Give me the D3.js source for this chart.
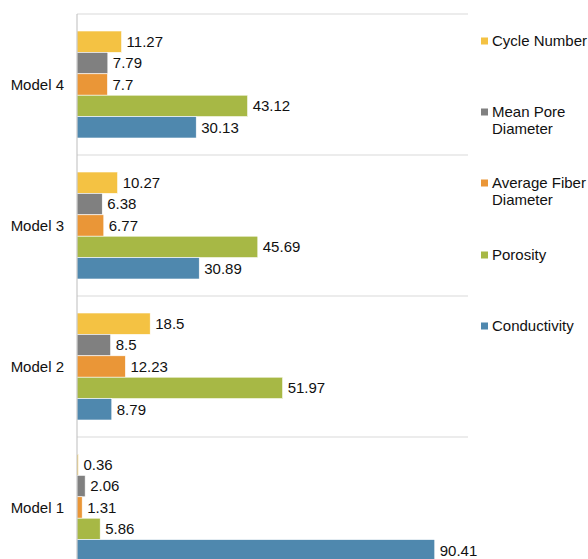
<!DOCTYPE html>
<html>
<head>
<meta charset="utf-8">
<script src="https://cdn.jsdelivr.net/npm/d3@7"></script>
<style>
  body { margin: 0; background: #fff; }
  svg { display: block; font-family: "Liberation Sans", Arial, sans-serif; }
</style>
</head>
<body>
<div id="chart"></div>
<script>
// categories, top to bottom as drawn
const models = ["Model 4", "Model 3", "Model 2", "Model 1"];

// series in the order they appear inside each group (top to bottom)
const seriesNames = ["Cycle Number", "Mean Pore Diameter", "Average Fiber Diameter", "Porosity", "Conductivity"];

// values per series, indexed like models
const cycleNumber = [11.27, 10.27, 18.5, 0.36];
const meanPoreDiameter = [7.79, 6.38, 8.5, 2.06];
const averageFiberDiameter = [7.7, 6.77, 12.23, 1.31];
const porosity = [43.12, 45.69, 51.97, 5.86];
const conductivity = [30.13, 30.89, 8.79, 90.41];

const seriesValues = [cycleNumber, meanPoreDiameter, averageFiberDiameter, porosity, conductivity];

// legend labels split in lines
const legendLines = [["Cycle Number"], ["Mean Pore", "Diameter"], ["Average Fiber", "Diameter"], ["Porosity"], ["Conductivity"]];

const colors = ["#f4c243", "#808080", "#ea9637", "#a7b845", "#4f88ae"];

const width = 588;
const height = 559;

const svg = d3.select("#chart")
    .append("svg")
    .attr("width", width)
    .attr("height", height);

// x scale: value -> px
const x = d3.scaleLinear()
    .domain([0, 100])
    .range([77, 77 + 395.7]);

// outer band per model
const y0 = d3.scaleBand()
    .domain(models)
    .range([14, 14 + 141 * models.length])
    .padding(0);

// inner band per series
const y1 = d3.scaleBand()
    .domain(seriesNames)
    .range([17, y0.bandwidth() - 17])
    .padding(0);

const color = d3.scaleOrdinal()
    .domain(seriesNames)
    .range(colors);

// separator grid lines
svg.selectAll(".grid")
    .data(models)
    .enter().append("line")
    .attr("class", "grid")
    .attr("x1", 77)
    .attr("x2", 468)
    .attr("y1", (d) => y0(d))
    .attr("y2", (d) => y0(d))
    .style("stroke", "#e6e6e6")
    .style("stroke-width", 1.5);

// flatten data for the bars
const rows = [];
models.forEach((m, i) => {
    seriesNames.forEach((s, j) => {
        rows.push({ model: m, series: s, value: seriesValues[j][i] });
    });
});

const bar = svg.selectAll(".bar")
    .data(rows)
    .enter().append("g")
    .attr("class", "bar")
    .attr("transform", (d) => `translate(0,${y0(d.model) + y1(d.series)})`);

bar.append("rect")
    .attr("x", x(0))
    .attr("y", 0)
    .attr("width", (d) => x(d.value) - x(0))
    .attr("height", y1.bandwidth())
    .style("fill", (d) => color(d.series))
    .style("stroke", "#fff")
    .style("stroke-width", 0.6);

bar.append("text")
    .attr("x", (d) => x(d.value) + 5)
    .attr("y", y1.bandwidth() / 2)
    .attr("dy", "0.36em")
    .style("font-size", "15px")
    .style("fill", "#111")
    .text((d) => d.value);

// y axis line
svg.append("line")
    .attr("x1", 77)
    .attr("x2", 77)
    .attr("y1", 14)
    .attr("y2", height)
    .style("stroke", "#bdbdbd")
    .style("stroke-width", 1);

// category labels
svg.selectAll(".cat")
    .data(models)
    .enter().append("text")
    .attr("class", "cat")
    .attr("x", 64)
    .attr("y", (d) => y0(d) + y0.bandwidth() / 2)
    .attr("dy", "0.36em")
    .attr("text-anchor", "end")
    .style("font-size", "15px")
    .style("fill", "#111")
    .text((d) => d);

// legend
const legendY = [41, 112, 183, 255, 326];

const legend = svg.selectAll(".legend")
    .data(seriesNames)
    .enter().append("g")
    .attr("class", "legend")
    .attr("transform", (d, i) => `translate(481,${legendY[i]})`);

legend.append("rect")
    .attr("x", 0)
    .attr("y", -3.5)
    .attr("width", 7)
    .attr("height", 7)
    .style("fill", (d) => color(d));

legend.append("text")
    .attr("x", 11)
    .attr("y", 0)
    .style("font-size", "15px")
    .style("fill", "#111")
    .selectAll("tspan")
    .data((d, i) => legendLines[i])
    .enter().append("tspan")
    .attr("x", 11)
    .attr("dy", (d, i) => (i === 0 ? "0.36em" : "17px"))
    .text((d) => d);
</script>
</body>
</html>
